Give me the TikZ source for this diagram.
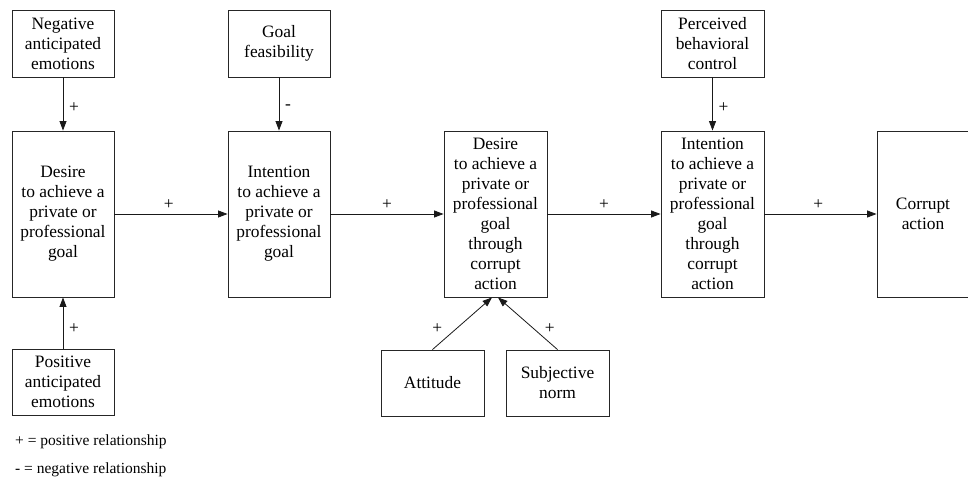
\documentclass[tikz,border=0pt]{standalone}
\usepackage{fontspec}
\setmainfont{Liberation Serif}
\usetikzlibrary{arrows.meta}
\begin{document}
\begin{tikzpicture}[x=1pt,y=-1pt,
  box/.style={draw=black!85,line width=0.9pt,rectangle,inner sep=0pt,align=center,
    font=\fontsize{17.4}{20}\selectfont},
  smallbox/.style={box,minimum width=102pt,minimum height=67pt},
  bigbox/.style={box,minimum width=103pt,minimum height=166pt},
  conn/.style={line width=0.8pt,draw=black!90,-{Triangle[length=9.5pt,width=7pt]}},
  sign/.style={font=\fontsize{17.4}{20}\selectfont,inner sep=0pt}]
\useasboundingbox (0,0) rectangle (968,478);
% top boxes
\node[smallbox] (nae) at (63,43.5) {Negative\\anticipated\\emotions};
\node[smallbox] (gf) at (279,43.5) {Goal\\feasibility};
\node[smallbox,minimum width=103pt] (pbc) at (712.5,43.5) {Perceived\\behavioral\\control};
% main row
\node[bigbox,minimum width=102pt] (d1) at (63,214) {Desire\\to achieve a\\private or\\professional\\goal};
\node[bigbox,minimum width=102pt] (i1) at (279,214) {Intention\\to achieve a\\private or\\professional\\goal};
\node[bigbox] (d2) at (495.5,214) {Desire\\to achieve a\\private or\\professional\\goal\\through\\corrupt\\action};
\node[bigbox] (i2) at (712.5,214) {Intention\\to achieve a\\private or\\professional\\goal\\through\\corrupt\\action};
\node[bigbox,minimum width=92pt] (ca) at (923,214) {Corrupt\\action};
% bottom boxes
\node[smallbox,minimum height=66pt] (pae) at (63,382) {Positive\\anticipated\\emotions};
\node[smallbox,minimum width=103pt,minimum height=66pt] (att) at (432.5,383) {Attitude};
\node[smallbox,minimum width=103pt,minimum height=66pt] (sn) at (557.5,383) {Subjective\\norm};
% connectors
\draw[conn] (nae) -- node[sign,pos=0.56,xshift=11pt] {+} (d1);
\draw[conn] (gf) -- node[sign,pos=0.56,xshift=9pt] {-} (i1);
\draw[conn] (pbc) -- node[sign,pos=0.56,xshift=11pt] {+} (i2);
\draw[conn] (pae) -- node[sign,pos=0.4,xshift=11pt] {+} (d1);
\draw[conn] (d1) -- node[sign,pos=0.48,yshift=9pt] {+} (i1);
\draw[conn] (i1) -- node[sign,pos=0.5,yshift=9pt] {+} (d2);
\draw[conn] (d2) -- node[sign,pos=0.5,yshift=9pt] {+} (i2);
\draw[conn] (i2) -- node[sign,pos=0.48,yshift=9pt] {+} (ca);
\coordinate (d2a) at ([xshift=-3.5pt]d2.south);
\coordinate (d2b) at ([xshift=2.5pt]d2.south);
\draw[conn] (att.north) -- node[sign,pos=0.4,xshift=-19pt] {+} (d2a);
\draw[conn] (sn.north) -- node[sign,pos=0.4,xshift=16pt] {+} (d2b);
% legend
\node[anchor=west,inner sep=0pt,font=\fontsize{15.5}{18}\selectfont] (l1) at (15,442) {+ = positive relationship};
\node[anchor=west,inner sep=0pt,font=\fontsize{15.5}{18}\selectfont] (l2) at (15,470) {- = negative relationship};
\end{tikzpicture}
\end{document}
